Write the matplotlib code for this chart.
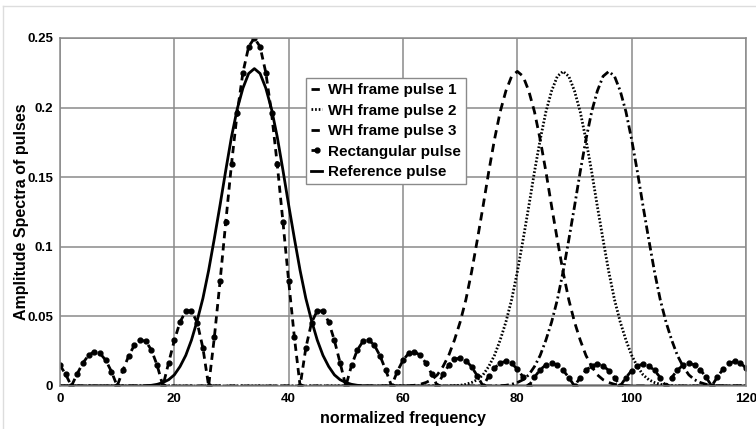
import numpy as np
import matplotlib
matplotlib.use("Agg")
from matplotlib import pyplot as plt

plt.rcParams['font.family'] = ['Liberation Sans', 'DejaVu Sans']

# normalized frequency samples 0..120
freq = np.arange(0, 121)

# rectangular pulse spectrum, read at every integer frequency
rect = [0.0149, 0.0083, 0.0, 0.0087, 0.0165, 0.0221, 0.0246, 0.0235, 0.0185, 0.0104,
        0.0, 0.0112, 0.0215, 0.0293, 0.0331, 0.0321, 0.0258, 0.0148, 0.0, 0.0166,
        0.0328, 0.0460, 0.0538, 0.0541, 0.0455, 0.0273, 0.0, 0.0350, 0.0753, 0.1179,
        0.1594, 0.1962, 0.2252, 0.2437, 0.2500, 0.2437, 0.2252, 0.1962, 0.1594, 0.1179,
        0.0753, 0.0350, 0.0, 0.0273, 0.0455, 0.0541, 0.0538, 0.0460, 0.0328, 0.0166,
        0.0, 0.0148, 0.0258, 0.0321, 0.0331, 0.0293, 0.0215, 0.0112, 0.0, 0.0104,
        0.0185, 0.0235, 0.0246, 0.0221, 0.0165, 0.0087, 0.0, 0.0083, 0.0149, 0.0191,
        0.0202, 0.0183, 0.0138, 0.0073, 0.0, 0.0071, 0.0129, 0.0166, 0.0177, 0.0162,
        0.0122, 0.0065, 0.0, 0.0064, 0.0117, 0.0152, 0.0163, 0.0150, 0.0114, 0.0061,
        0.0, 0.0061, 0.0112, 0.0145, 0.0157, 0.0145, 0.0111, 0.0060, 0.0, 0.0060,
        0.0111, 0.0145, 0.0157, 0.0145, 0.0112, 0.0061, 0.0, 0.0061, 0.0114, 0.0150,
        0.0163, 0.0152, 0.0117, 0.0064, 0.0, 0.0065, 0.0122, 0.0162, 0.0177, 0.0166,
        0.0129]

# reference pulse, nonzero between 14 and 54
ref_vals = [0.0, 0.0002, 0.0005, 0.0012, 0.0025, 0.0045, 0.008, 0.014, 0.022, 0.033,
            0.047, 0.063, 0.083, 0.106, 0.130, 0.155, 0.179, 0.199, 0.214, 0.2245,
            0.228,
            0.2245, 0.214, 0.199, 0.179, 0.155, 0.130, 0.106, 0.083, 0.063, 0.047,
            0.033, 0.022, 0.014, 0.008, 0.0045, 0.0025, 0.0012, 0.0005, 0.0002, 0.0]
ref = [0.0] * 14 + ref_vals + [0.0] * 66

# WH frame pulses (peaks at 80, 88, 96)
wh1_vals = [0.0, 0.0002, 0.0005, 0.0012, 0.0025, 0.0045, 0.008, 0.014, 0.022, 0.033,
            0.046, 0.062, 0.082, 0.105, 0.129, 0.154, 0.177, 0.197, 0.212, 0.2225,
            0.226,
            0.2225, 0.212, 0.197, 0.177, 0.154, 0.129, 0.105, 0.082, 0.062, 0.046,
            0.033, 0.022, 0.014, 0.008, 0.0045, 0.0025, 0.0012, 0.0005, 0.0002, 0.0]
wh2_vals = [0.0, 0.0002, 0.0005, 0.0012, 0.0025, 0.0045, 0.008, 0.014, 0.022, 0.033,
            0.046, 0.062, 0.082, 0.105, 0.129, 0.154, 0.177, 0.197, 0.212, 0.2225,
            0.226,
            0.2225, 0.212, 0.197, 0.177, 0.154, 0.129, 0.105, 0.082, 0.062, 0.046,
            0.033, 0.022, 0.014, 0.008, 0.0045, 0.0025, 0.0012, 0.0005, 0.0002, 0.0]
wh3_vals = [0.0, 0.0002, 0.0005, 0.0012, 0.0025, 0.0045, 0.008, 0.014, 0.022, 0.033,
            0.046, 0.062, 0.082, 0.105, 0.129, 0.154, 0.177, 0.197, 0.212, 0.2225,
            0.226,
            0.2225, 0.212, 0.197, 0.177, 0.154, 0.129, 0.105, 0.082, 0.062, 0.046,
            0.033, 0.022, 0.014, 0.008, 0.0045, 0.0025, 0.0012, 0.0005, 0.0002, 0.0]
wh1 = [0.0] * 60 + wh1_vals + [0.0] * 20
wh2 = [0.0] * 68 + wh2_vals + [0.0] * 12
wh3 = [0.0] * 76 + wh3_vals + [0.0] * 4

labels = ['WH frame pulse 1', 'WH frame pulse 2', 'WH frame pulse 3',
          'Rectangular pulse', 'Reference pulse']
xticks = [0, 20, 40, 60, 80, 100, 120]
yticks = [0, 0.05, 0.1, 0.15, 0.2, 0.25]
ytick_labels = ['0', '0.05', '0.1', '0.15', '0.2', '0.25']

fig = plt.figure(figsize=(7.56, 4.29), dpi=100)
ax = fig.add_axes([60 / 756, 1 - 386 / 429, 686 / 756, 348 / 429])

lw = 2.0
ax.plot(freq, wh1, color='black', lw=lw, dashes=(3.0, 2.0), label=labels[0])
ax.plot(freq, wh2, color='black', lw=lw, dashes=(0.6, 0.7), label=labels[1])
ax.plot(freq, wh3, color='black', lw=lw, dashes=(3.0, 1.2, 0.7, 1.2), label=labels[2])
ax.plot(freq, rect, color='black', lw=lw, dashes=(2.6, 1.8), marker='.',
        markersize=7, label=labels[3])
ax.plot(freq, ref, color='black', lw=lw, label=labels[4])

ax.set_xlim(0, 120)
ax.set_ylim(0, 0.25)
ax.set_xticks(xticks)
ax.set_yticks(yticks)
ax.set_yticklabels(ytick_labels)
ax.grid(True, color='#8a8a8a', lw=1.1)
ax.set_axisbelow(True)
for sp in ax.spines.values():
    sp.set_color('#8a8a8a')
    sp.set_linewidth(1.1)
ax.tick_params(length=0, pad=5, labelsize=9.5)
for t in ax.get_xticklabels() + ax.get_yticklabels():
    t.set_fontweight('bold')

ax.set_xlabel('normalized frequency', fontsize=11.5, fontweight='bold', labelpad=4)
ax.set_ylabel('Amplitude Spectra of pulses', fontsize=11.5, fontweight='bold', labelpad=-1)

leg = ax.legend(loc='upper left', bbox_to_anchor=(306 / 756, 1 - 78 / 429),
                bbox_transform=fig.transFigure, handlelength=0.7,
                handletextpad=0.4, labelspacing=0.42, borderpad=0.35,
                borderaxespad=0, numpoints=1, fancybox=False, framealpha=1,
                prop={'weight': 'bold', 'size': 11})
leg.get_frame().set_edgecolor('#8a8a8a')
leg.get_frame().set_linewidth(1.0)

# faint page border
fig.add_artist(plt.Line2D([3 / 756, 3 / 756], [0, 1 - 6 / 429], color='#dddddd', lw=1))
fig.add_artist(plt.Line2D([3 / 756, 1], [1 - 6 / 429, 1 - 6 / 429], color='#dddddd', lw=1))

fig.savefig('out.png', dpi=100)
